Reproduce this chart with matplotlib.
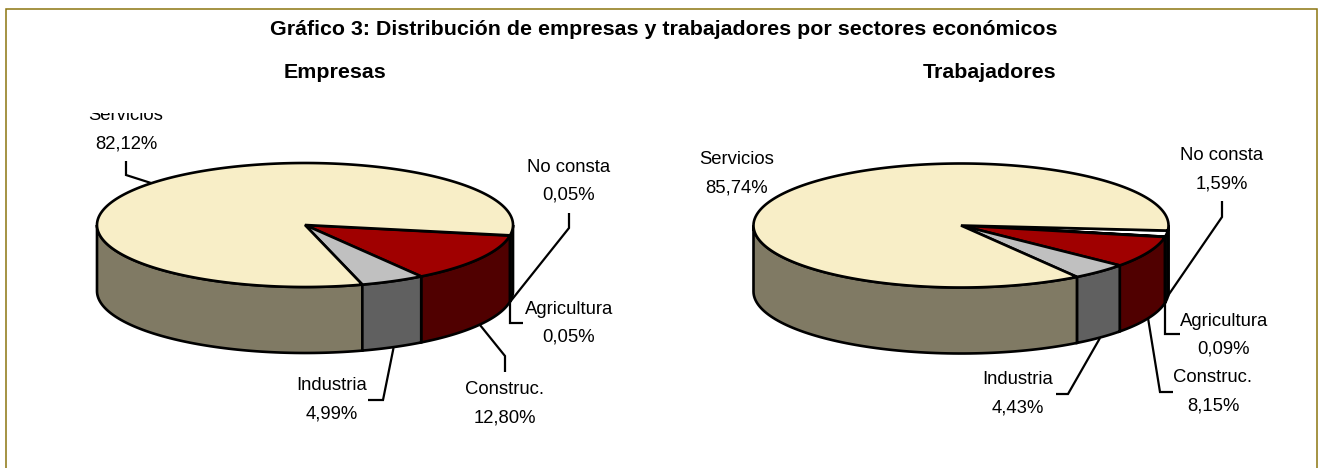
import numpy as np
import matplotlib
matplotlib.use("Agg")
import matplotlib.pyplot as plt
from matplotlib.patches import Polygon, Rectangle

sectors = ["No consta", "Agricultura", "Construc.", "Industria", "Servicios"]
empresas = [0.05, 0.05, 12.80, 4.99, 82.12]
trabajadores = [1.59, 0.09, 8.15, 4.43, 85.74]
top_colors = ["#FFFFFF", "#FFFFFF", "#A00000", "#C0C0C0", "#F8EEC7"]
side_colors = ["#808080", "#808080", "#500000", "#606060", "#807A64"]

title = "Gráfico 3: Distribución de empresas y trabajadores por sectores económicos"
sub_left = "Empresas"
sub_right = "Trabajadores"

FAM = ["Liberation Sans"]

fig = plt.figure(figsize=(13.23, 4.68), dpi=100, facecolor="white")
ax = fig.add_axes([0, 0, 1, 1])
ax.set_xlim(0, 1323)
ax.set_ylim(468, 0)
ax.axis("off")

ax.plot([5.5, 5.5, 1316.5, 1316.5], [470, 8.5, 8.5, 470], color="#8B7510", lw=1.1, solid_joinstyle="miter")

LW = 1.9


def pie3d(values, cx, cy, rx, ry, depth, start):
    total = sum(values)
    edges = start + np.concatenate([[0], np.cumsum(values)]) / total * 360
    pts = lambda a, dy=0: np.column_stack([cx + rx * np.cos(np.radians(a)), cy + ry * np.sin(np.radians(a)) + dy])
    spans = []
    for i in range(len(values)):
        a, b = edges[i], edges[i + 1]
        for off in (0, -360):
            lo, hi = max(a + off, 0), min(b + off, 180)
            if hi > lo:
                spans.append((lo, hi, i))
    for lo, hi, i in sorted(spans, key=lambda s: -abs(90 - (s[0] + s[1]) / 2)):
        t = np.linspace(lo, hi, 80)
        poly = np.vstack([pts(t), pts(t[::-1], depth)])
        ax.add_patch(Polygon(poly, closed=True, fc=side_colors[i], ec="black", lw=LW, joinstyle="miter", zorder=2))
    for i in range(len(values)):
        t = np.linspace(edges[i], edges[i + 1], max(4, int(edges[i + 1] - edges[i]) * 2))
        poly = np.vstack([[cx, cy], pts(t)])
        ax.add_patch(Polygon(poly, closed=True, fc=top_colors[i], ec="black", lw=LW, joinstyle="miter", zorder=3))


pie3d(empresas, 305, 225, 208, 62, 66, 9.6)
pie3d(trabajadores, 961, 225.5, 207.5, 62, 66, 4.7)

leaders_left = [
    [(126, 161), (126, 175), (151, 183)],
    [(569, 213), (569, 228), (510, 302)],
    [(523, 323), (510, 323), (510, 302)],
    [(505, 372), (505, 356), (480, 325)],
    [(368, 400), (383, 400), (393.5, 348)],
]
leaders_right = [
    [(1222, 201), (1222, 217), (1165, 300)],
    [(1180, 334), (1165, 334), (1165, 300)],
    [(1173, 392), (1160, 392), (1148, 318)],
    [(1056, 394), (1068, 394), (1100, 338)],
]
for seg in leaders_left + leaders_right:
    xs, ys = zip(*seg)
    ax.plot(xs, ys, color="black", lw=1.6, solid_joinstyle="miter", solid_capstyle="butt", zorder=4)

FS = 13.3
pos_left = {"Servicios": (126, 115, 143), "No consta": (569, 166, 194), "Agricultura": (569, 309, 336),
            "Construc.": (505, 388, 417), "Industria": (332, 385, 413)}
pos_right = {"Servicios": (737, 159, 187), "No consta": (1222, 155, 183), "Agricultura": (1224, 320, 348),
             "Construc.": (1213, 377, 405), "Industria": (1018, 379, 407)}
clip = Rectangle((0, 112.5), 1323, 400, transform=ax.transData)
for values, pos in ((empresas, pos_left), (trabajadores, pos_right)):
    for name, v in zip(sectors, values):
        x, y1, y2 = pos[name]
        t = ax.text(x, y1 + 1, name, ha="center", va="center", fontsize=FS, family=FAM, color="black", zorder=5)
        t.set_clip_path(clip)
        t.set_clip_on(True)
        ax.text(x, y2 + 1, f"{v:.2f}".replace(".", ",") + "%", ha="center", va="center", fontsize=FS, family=FAM, color="black", zorder=5)

TS = 15.4
ax.text(663.5, 29.5, title, ha="center", va="center", fontsize=TS, fontweight="bold", family=FAM)
ax.text(334.6, 73, sub_left, ha="center", va="center", fontsize=TS, fontweight="bold", family=FAM)
ax.text(990, 73, sub_right, ha="center", va="center", fontsize=TS, fontweight="bold", family=FAM)

fig.savefig("out.png", dpi=100, facecolor="white")
